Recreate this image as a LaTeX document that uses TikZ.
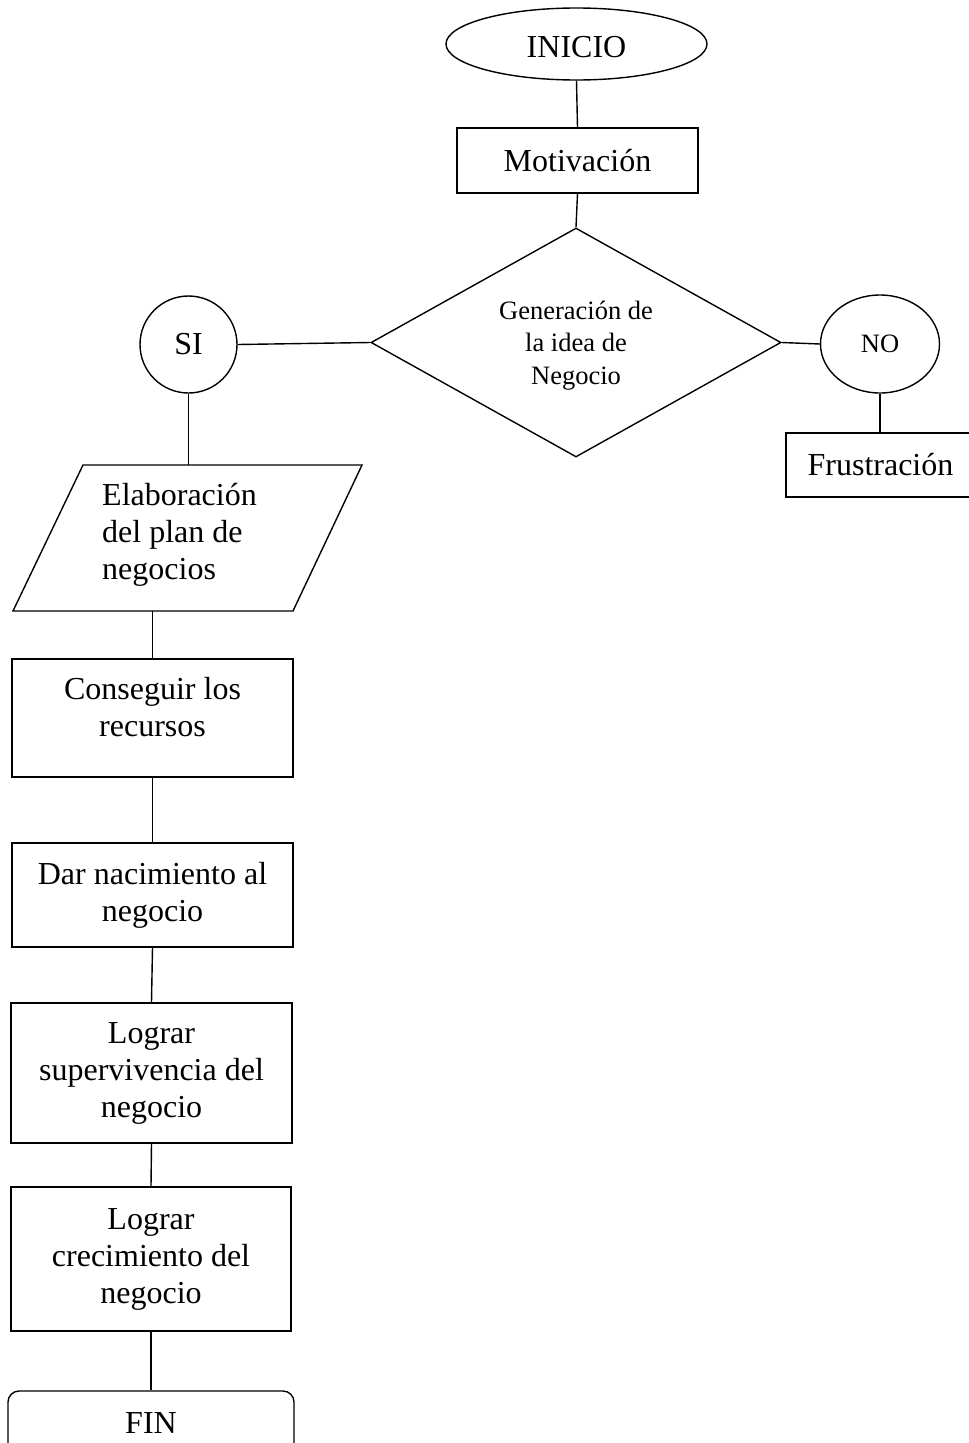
\documentclass[tikz,border=0pt]{standalone}
\usepackage{fontspec}
\setmainfont{Liberation Serif}
\usetikzlibrary{shapes.geometric}
\tikzset{
  base/.style={draw, line width=1.4pt, inner sep=0pt, align=center, font=\fontsize{32}{37}\selectfont},
  box/.style={base, rectangle},
  small/.style={font=\fontsize{26.5}{32.5}\selectfont},
  txt/.style={inner sep=0pt, align=center, font=\fontsize{32}{37}\selectfont},
  conn/.style={line width=1.4pt}
}
\begin{document}
\begin{tikzpicture}[x=1pt,y=-1pt]
\useasboundingbox (0,0) rectangle (969,1443);
% nodes
\node[base, ellipse, minimum width=261pt, minimum height=72pt,
      label={[txt, yshift=-3pt]center:INICIO}] (inicio) at (576.5,44) {};
\node[box, minimum width=241pt, minimum height=65pt] (mot) at (577.5,160.5) {Motivación};
\node[base, diamond, minimum width=410pt, minimum height=229pt,
      label={[txt, small, yshift=-3pt]center:Generación de\\la idea de\\Negocio}] (dec) at (576,342.5) {};
\node[base, circle, minimum size=97pt] (si) at (188.5,344.5) {SI};
\node[base, small, ellipse, minimum width=119pt, minimum height=98pt] (no) at (880,344) {NO};
\node[box, minimum width=189pt, minimum height=64pt] (fru) at (880.5,465) {Frustración};
% parallelogram
\coordinate (pTL) at (83,465);
\coordinate (pTR) at (362,465);
\coordinate (pBR) at (293,611);
\coordinate (pBL) at (13,611);
\draw[conn, line join=miter] (pTL) -- (pTR) -- (pBR) -- (pBL) -- cycle;
\node[txt, align=left, anchor=west] (plan) at (102,535) {Elaboración\\del plan de\\negocios};
\node[box, minimum width=281pt, minimum height=118pt,
      label={[txt, yshift=10.5pt]center:Conseguir los\\recursos}] (b1) at (152.5,718) {};
\node[box, minimum width=281pt, minimum height=104pt] (b2) at (152.5,895) {Dar nacimiento al\\negocio};
\node[box, minimum width=281pt, minimum height=140pt] (b3) at (151.5,1073) {Lograr\\supervivencia del\\negocio};
\node[box, minimum width=280pt, minimum height=144pt] (b4) at (151,1259) {Lograr\\crecimiento del\\negocio};
\node[base, rectangle, rounded corners=11pt, minimum width=286pt, minimum height=64pt] (fin) at (151,1423) {FIN};
% connectors
\draw[conn] (inicio.south) -- (mot.north);
\draw[conn] (mot.south) -- (dec.north);
\draw[conn] (si.east) -- (dec.west);
\draw[conn] (dec.east) -- (no.west);
\draw[conn] (no.south) -- (no.south |- fru.north);
\draw[conn] (si.south) -- (si.south |- pTL);
\draw[conn] (b1.north |- pBL) -- (b1.north);
\draw[conn] (b1.south) -- (b2.north);
\draw[conn] (b2.south) -- (b3.north);
\draw[conn] (b3.south) -- (b4.north);
\draw[conn] (b4.south) -- (fin.north);
\end{tikzpicture}
\end{document}
